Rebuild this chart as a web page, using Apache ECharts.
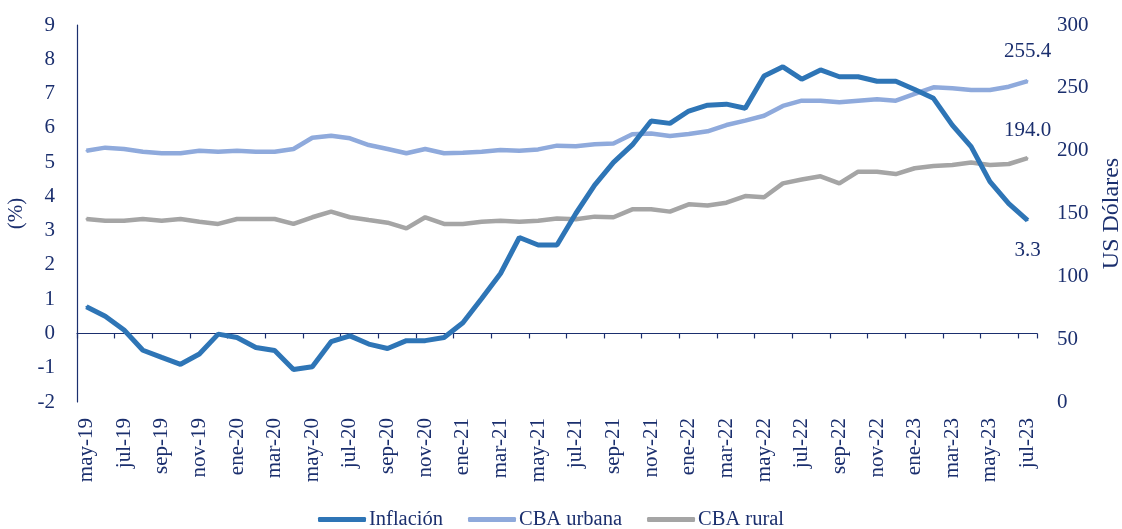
<!DOCTYPE html>
<html>
<head>
<meta charset="utf-8">
<script src="https://cdn.jsdelivr.net/npm/echarts@6/dist/echarts.min.js"></script>
<style>
  html, body { margin: 0; padding: 0; background: #fff; }
  #chart { width: 1122px; height: 529px; }
</style>
</head>
<body>
<div id="chart"></div>
<script>
// meses (may-19 .. jul-23)
var months = [
  'may-19','jun-19','jul-19','ago-19','sep-19','oct-19','nov-19','dic-19',
  'ene-20','feb-20','mar-20','abr-20','may-20','jun-20','jul-20','ago-20','sep-20','oct-20','nov-20','dic-20',
  'ene-21','feb-21','mar-21','abr-21','may-21','jun-21','jul-21','ago-21','sep-21','oct-21','nov-21','dic-21',
  'ene-22','feb-22','mar-22','abr-22','may-22','jun-22','jul-22','ago-22','sep-22','oct-22','nov-22','dic-22',
  'ene-23','feb-23','mar-23','abr-23','may-23','jun-23','jul-23'
];

// inflacion (%), eje izquierdo
var inflacion = [
  0.78, 0.50, 0.10, -0.49, -0.70, -0.90, -0.60, -0.02, -0.12, -0.41, -0.50, -1.05,
  -0.97, -0.24, -0.07, -0.31, -0.44, -0.21, -0.21, -0.12, 0.31, 1.02, 1.75, 2.80,
  2.58, 2.58, 3.50, 4.33, 4.99, 5.50, 6.20, 6.13, 6.49, 6.66, 6.69, 6.57,
  7.51, 7.78, 7.42, 7.69, 7.49, 7.49, 7.36, 7.36, 7.12, 6.86, 6.08, 5.45,
  4.43, 3.79, 3.30
];

// CBA urbana (US$), eje derecho
var cbaUrbana = [
  200.0, 202.4, 201.3, 199.2, 197.9, 197.9, 200.0, 199.2, 200.0, 199.2, 199.2, 201.3,
  210.3, 211.9, 209.8, 204.5, 201.3, 197.9, 201.3, 197.9, 198.4, 199.2, 200.5, 200.0,
  201.0, 204.0, 203.5, 205.1, 205.7, 213.0, 213.6, 211.7, 213.2, 215.4, 220.4, 223.9,
  227.8, 235.6, 239.8, 239.8, 238.5, 239.8, 240.9, 239.8, 245.1, 250.4, 249.6, 248.3,
  248.3, 250.9, 255.4
];

// CBA rural (US$), eje derecho
var cbaRural = [
  145.6, 144.3, 144.3, 145.6, 144.3, 145.6, 143.5, 141.7, 145.6, 145.6, 145.6, 141.7,
  147.0, 151.5, 147.0, 144.8, 142.7, 138.2, 147.0, 141.7, 141.7, 143.5, 144.3, 143.5,
  144.3, 146.1, 145.4, 147.5, 147.0, 153.3, 153.3, 151.5, 157.3, 156.3, 158.6, 163.9,
  162.9, 174.0, 177.0, 179.6, 174.0, 183.3, 183.3, 181.4, 186.0, 187.8, 188.6, 190.5,
  188.6, 189.4, 194.0
];

var navy = '#1b2f6e';
var font = '"Liberation Serif", "Times New Roman", serif';

// solo la ultima observacion lleva etiqueta
function withLastLabel(arr, pos, dist){
  return arr.map(function(v, i){
    if (i !== arr.length - 1) return v;
    return {
      value: v,
      label: {
        show: true, position: pos, distance: dist,
        formatter: v.toFixed(1),
        color: navy, fontFamily: font, fontSize: 21
      }
    };
  });
}

var myChart = echarts.init(document.getElementById('chart'));
var option = {
  animation: false,
  textStyle: { fontFamily: font, color: navy },
  grid: { left: 77, right: 85, top: 25, bottom: 127, containLabel: false, outerBoundsMode: 'none' },
  legend: {
    bottom: -6,
    left: 313,
    itemWidth: 48,
    itemHeight: 5,
    itemGap: 25,
    icon: 'roundRect',
    textStyle: { color: navy, fontFamily: font, fontSize: 20.5, padding: [0, 0, 0, -2] },
    data: ['Inflación', 'CBA urbana', 'CBA rural']
  },
  xAxis: [
    {   // linea en cero con marcas
      type: 'category',
      data: months,
      position: 'bottom',
      boundaryGap: true,
      axisLine: { show: true, onZero: true, onZeroAxisIndex: 0, lineStyle: { color: navy, width: 1.2 } },
      axisTick: { show: true, interval: 1, length: 5, lineStyle: { color: navy, width: 1.2 } },
      axisLabel: { show: false },
      splitLine: { show: false }
    },
    {   // etiquetas abajo
      type: 'category',
      data: months,
      position: 'bottom',
      boundaryGap: true,
      axisLine: { show: false, onZero: false },
      axisTick: { show: false },
      axisLabel: {
        show: true, interval: 1, rotate: 90, margin: 16,
        color: navy, fontFamily: font, fontSize: 21
      },
      splitLine: { show: false }
    }
  ],
  yAxis: [
    {
      type: 'value',
      min: -2, max: 9, interval: 1,
      position: 'left',
      name: '(%)',
      nameLocation: 'middle',
      nameRotate: 90,
      nameGap: 48,
      nameTextStyle: { color: navy, fontFamily: font, fontSize: 21 },
      axisLine: { show: true, lineStyle: { color: navy, width: 1.2 } },
      axisTick: { show: false },
      axisLabel: { color: navy, fontFamily: font, fontSize: 21, margin: 22 },
      splitLine: { show: false }
    },
    {
      type: 'value',
      min: 0, max: 300, interval: 50,
      position: 'right',
      name: 'US Dólares',
      nameLocation: 'middle',
      nameRotate: 90,
      nameGap: 61,
      nameTextStyle: { color: navy, fontFamily: font, fontSize: 24 },
      axisLine: { show: false },
      axisTick: { show: false },
      axisLabel: { color: navy, fontFamily: font, fontSize: 21, margin: 20 },
      splitLine: { show: false }
    }
  ],
  series: [
    {
      name: 'Inflación',
      type: 'line',
      xAxisIndex: 0,
      yAxisIndex: 0,
      data: withLastLabel(inflacion, 'bottom', 19),
      symbol: 'circle',
      symbolSize: 2,
      showSymbol: true,
      showAllSymbol: true,
      color: '#2e75b6',
      lineStyle: { width: 5, color: '#2e75b6' },
      z: 4
    },
    {
      name: 'CBA urbana',
      type: 'line',
      xAxisIndex: 0,
      yAxisIndex: 1,
      data: withLastLabel(cbaUrbana, 'top', 18),
      symbol: 'circle',
      symbolSize: 2,
      showSymbol: true,
      showAllSymbol: true,
      color: '#8faadc',
      lineStyle: { width: 4.5, color: '#8faadc' },
      z: 3
    },
    {
      name: 'CBA rural',
      type: 'line',
      xAxisIndex: 0,
      yAxisIndex: 1,
      data: withLastLabel(cbaRural, 'top', 16),
      symbol: 'circle',
      symbolSize: 2,
      showSymbol: true,
      showAllSymbol: true,
      color: '#a5a5a5',
      lineStyle: { width: 4.5, color: '#a5a5a5' },
      z: 2
    }
  ]
};
myChart.setOption(option);
</script>
</body>
</html>
